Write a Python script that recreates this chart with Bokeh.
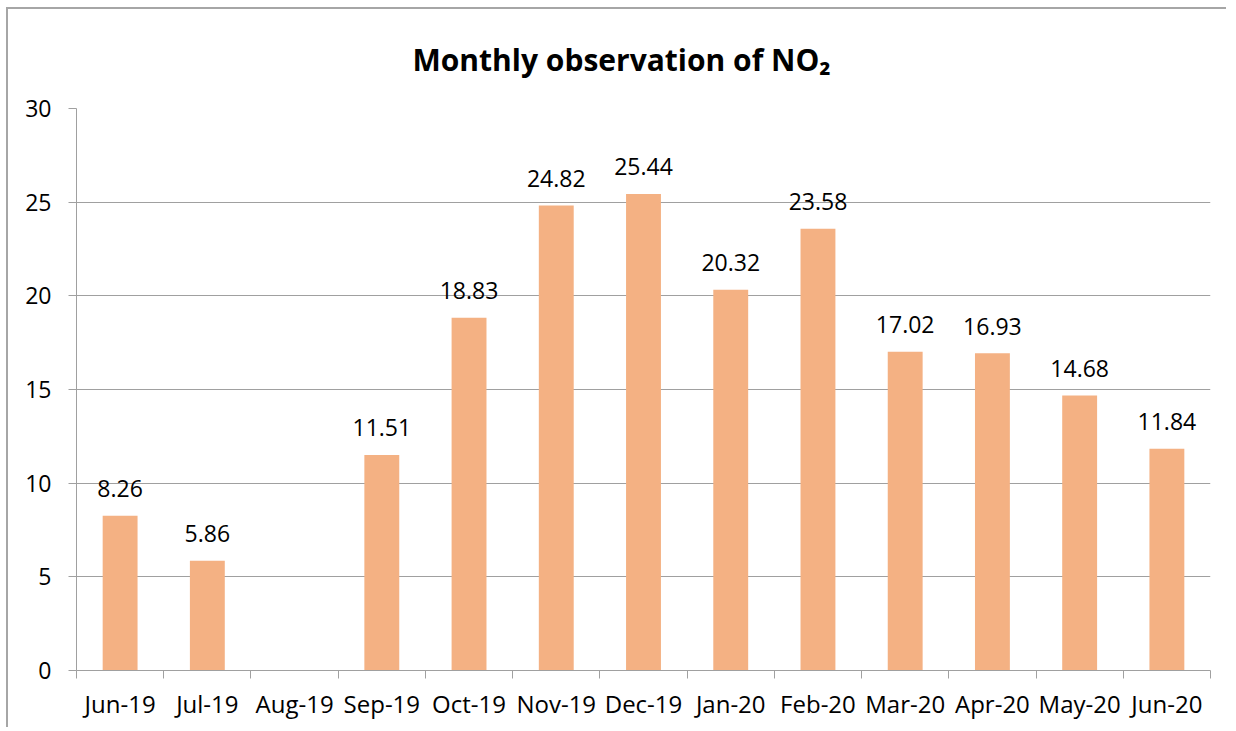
from bokeh.plotting import figure
from bokeh.models import ColumnDataSource, FixedTicker, CustomJSTickFormatter, Range1d, SingleIntervalTicker
from bokeh.core.properties import value
from bokeh.embed import file_html
from bokeh.resources import INLINE

months = ["Jun-19", "Jul-19", "Aug-19", "Sep-19", "Oct-19", "Nov-19", "Dec-19",
          "Jan-20", "Feb-20", "Mar-20", "Apr-20", "May-20", "Jun-20"]
no2 = [8.26, 5.86, None, 11.51, 18.83, 24.82, 25.44, 20.32, 23.58, 17.02, 16.93, 14.68, 11.84]
y_max = 30
y_step = 5
title = "Monthly observation of NO\u2082"

FONT = "Open Sans"
GRID = "#A0A0A0"

xs = [i + 0.5 for i in range(len(months))]
idx = [i for i, v in enumerate(no2) if v is not None]
src = ColumnDataSource(dict(
    x=[xs[i] for i in idx],
    y=[no2[i] for i in idx],
    label=[f"{no2[i]:.2f}" for i in idx],
))

p = figure(width=1220, height=720, output_backend="svg", toolbar_location=None,
           x_range=Range1d(0, len(months)), y_range=Range1d(0, y_max),
           min_border_left=68, min_border_right=18, min_border_top=99, min_border_bottom=59)
p.margin = (7, 0, 0, 6)
p.styles = {"border-top": "2px solid #A6A6A6", "border-left": "2px solid #A6A6A6"}

p.title.text = title
p.title.align = "left"
p.title.vertical_align = "top"
p.title.offset = 336
p.title.standoff = 54
p.title.text_font = FONT
p.title.text_font_size = "30px"
p.title.text_font_style = "bold"
p.title.text_color = "black"

p.outline_line_color = None
p.background_fill_color = "white"
p.border_fill_color = "white"

p.vbar(x="x", top="y", width=0.4, source=src, fill_color="#F4B183", line_color=None)
p.text(x="x", y="y", text="label", source=src, text_align="center",
       text_baseline="alphabetic", y_offset=-27,
       text_font=value(FONT), text_font_size="23px", text_color="black")

# x axis
p.xaxis.ticker = FixedTicker(ticks=xs, minor_ticks=list(range(len(months) + 1)))
p.xaxis.formatter = CustomJSTickFormatter(args=dict(labels=months),
                                          code="return labels[Math.floor(tick)] || '';")
p.xaxis.major_tick_line_color = None
p.xaxis.minor_tick_line_color = GRID
p.xaxis.minor_tick_out = 8
p.xaxis.minor_tick_in = 0
p.xaxis.axis_line_color = GRID
p.xaxis.major_label_standoff = 8
p.xaxis.major_label_text_font = FONT
p.xaxis.major_label_text_font_size = "24px"
p.xaxis.major_label_text_color = "black"
p.xgrid.grid_line_color = None

# y axis
p.yaxis.ticker = SingleIntervalTicker(interval=y_step)
p.yaxis.minor_tick_line_color = None
p.yaxis.major_tick_line_color = GRID
p.yaxis.major_tick_out = 8
p.yaxis.major_tick_in = 0
p.yaxis.axis_line_color = GRID
p.yaxis.major_label_standoff = 17
p.yaxis.major_label_text_font = FONT
p.yaxis.major_label_text_font_size = "23px"
p.yaxis.major_label_text_color = "black"
p.ygrid.grid_line_color = GRID
p.ygrid.grid_line_width = 1

open("out.html", "w").write(file_html(p, INLINE))
